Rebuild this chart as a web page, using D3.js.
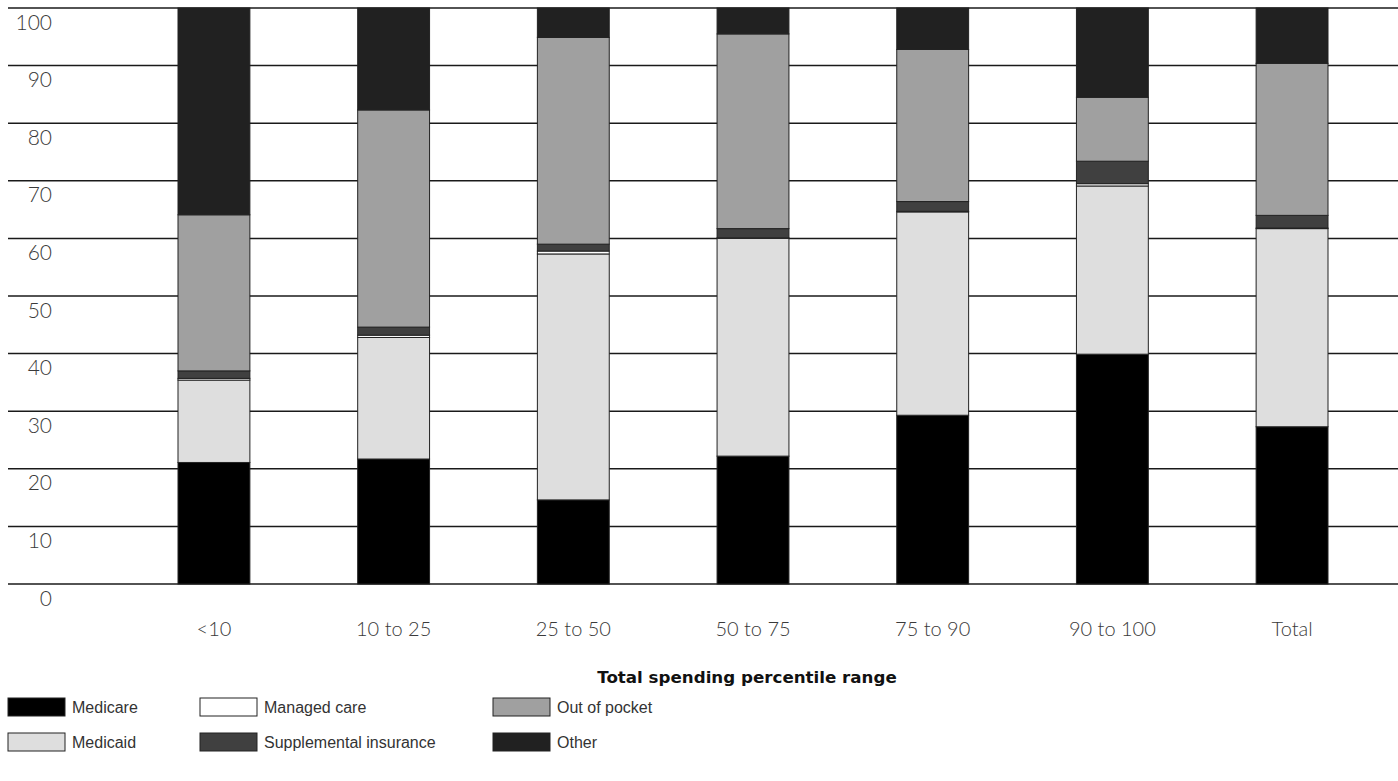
<!DOCTYPE html>
<html>
<head>
<meta charset="utf-8">
<script src="https://cdn.jsdelivr.net/npm/d3@7"></script>
<style>
  html, body { margin: 0; padding: 0; background: #fff; }
  svg { display: block; }
</style>
</head>
<body>
<svg id="chart" width="1398" height="781"></svg>
<script>
const categories = ["<10", "10 to 25", "25 to 50", "50 to 75", "75 to 90", "90 to 100", "Total"];
const seriesNames = ["Medicare", "Medicaid", "Managed care", "Supplemental insurance", "Out of pocket", "Other"];
const medicare     = [21.1, 21.7, 14.6, 22.2, 29.3, 39.9, 27.3];
const medicaid     = [14.3, 21.1, 42.7, 37.8, 35.3, 29.2, 34.4];
const managedCare  = [0.3, 0.4, 0.5, 0.1, 0.1, 0.4, 0.1];
const supplemental = [1.3, 1.4, 1.2, 1.6, 1.7, 3.9, 2.2];
const outOfPocket  = [27.1, 37.7, 35.9, 33.8, 26.4, 11.1, 26.4];
const other        = [35.9, 17.7, 5.1, 4.5, 7.2, 15.5, 9.6];
const yTicks = [0, 10, 20, 30, 40, 50, 60, 70, 80, 90, 100];
const xTitle = "Total spending percentile range";

const seriesValues = [medicare, medicaid, managedCare, supplemental, outOfPocket, other];
const colors = ["#000000", "#dedede", "#ffffff", "#404040", "#a0a0a0", "#212121"];

const rows = categories.map((c, i) => {
  const r = { cat: c };
  seriesNames.forEach((s, j) => r[s] = seriesValues[j][i]);
  return r;
});
const stacked = d3.stack().keys(seriesNames)(rows);

const svg = d3.select("#chart");
const x = d3.scaleBand().domain(categories).range([178, 1328]).paddingInner(0.6).paddingOuter(0);
const y = d3.scaleLinear().domain([0, 100]).range([584, 8]);

// gridlines
svg.append("g").selectAll("line").data(yTicks).join("line")
  .attr("x1", 8).attr("x2", 1398)
  .attr("y1", d => y(d)).attr("y2", d => y(d))
  .attr("stroke", "#1a1a1a").attr("stroke-width", 1.5);

// y tick labels
svg.append("g").selectAll("text").data(yTicks).join("text")
  .attr("x", 52).attr("y", d => y(d) + 13)
  .attr("text-anchor", "end").attr("dominant-baseline", "central")
  .attr("font-family", "Lato, 'Open Sans', sans-serif").attr("font-weight", 300)
  .attr("font-size", 21).attr("fill", "#3a3a3a").text(d => d);

// bars
svg.append("g").selectAll("g").data(stacked).join("g")
  .attr("fill", (d, i) => colors[i])
  .selectAll("rect").data(d => d).join("rect")
  .attr("x", d => x(d.data.cat))
  .attr("width", x.bandwidth())
  .attr("y", d => y(d[1]))
  .attr("height", d => y(d[0]) - y(d[1]))
  .attr("stroke", "#222").attr("stroke-width", 1);

// category labels
svg.append("g").selectAll("text").data(categories).join("text")
  .attr("x", d => x(d) + x.bandwidth() / 2).attr("y", 628)
  .attr("text-anchor", "middle").attr("dominant-baseline", "central")
  .attr("font-family", "Lato, 'Open Sans', sans-serif").attr("font-weight", 300)
  .attr("font-size", 20).attr("fill", "#3a3a3a").text(d => d);

// axis title
svg.append("text")
  .attr("x", 747).attr("y", 677)
  .attr("text-anchor", "middle").attr("dominant-baseline", "central")
  .attr("font-family", "'DejaVu Sans', Verdana, sans-serif").attr("font-weight", "bold")
  .attr("font-size", 16.7).attr("fill", "#111").text(xTitle);

// legend
const legendOrder = [0, 2, 4, 1, 3, 5];
const legendX = [8, 200, 493];
const legendY = [707, 742];
const leg = svg.append("g").selectAll("g").data(legendOrder).join("g")
  .attr("transform", (d, k) => `translate(${legendX[k % 3]},${legendY[Math.floor(k / 3)]})`);
leg.append("rect")
  .attr("x", 0).attr("y", -9).attr("width", 57).attr("height", 18)
  .attr("fill", d => colors[d]).attr("stroke", "#222").attr("stroke-width", 1);
leg.append("text")
  .attr("x", 64).attr("y", 0).attr("dominant-baseline", "central")
  .attr("font-family", "'Liberation Sans Narrow', 'Liberation Sans', Arial, sans-serif")
  .attr("font-size", 16).attr("fill", "#333")
  .text(d => seriesNames[d]);
</script>
</body>
</html>
